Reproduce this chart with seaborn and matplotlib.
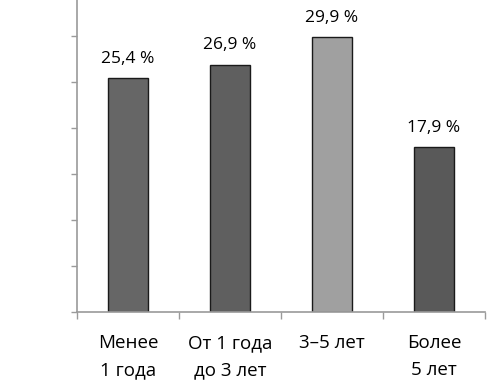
import matplotlib
matplotlib.use("Agg")
import matplotlib.pyplot as plt
import seaborn as sns
import pandas as pd
import numpy as np

categories = ["Менее\n1 года", "От 1 года\nдо 3 лет", "3–5 лет", "Более\n5 лет"]
values = [25.4, 26.9, 29.9, 17.9]
labels = ["25,4 %", "26,9 %", "29,9 %", "17,9 %"]
colors = ["#666666", "#5f5f5f", "#a0a0a0", "#595959"]

sns.set_style("white")
plt.rcParams["font.family"] = ["Open Sans", "DejaVu Sans"]

df = pd.DataFrame({"cat": categories, "val": values})

fig = plt.figure(figsize=(5.0, 3.88), dpi=100)
ax = fig.add_axes([77/500, 76/388, 408/500, 322/388])

sns.barplot(data=df, x="cat", y="val", hue="cat", palette=colors, legend=False,
            width=0.4, edgecolor="#1a1a1a", linewidth=1.0, saturation=1, ax=ax)

ax.set_xlim(-0.5, 3.5)
ax.set_ylim(0, 35)
ax.set_xlabel("")
ax.set_ylabel("")

for i, (v, t) in enumerate(zip(values, labels)):
    ax.annotate(t, (i, v), xytext=(0, 8), textcoords="offset points",
                ha="center", va="bottom", fontsize=12.5, color="#000000")

axis_col = "#9a9a9a"
for s in ["top", "right"]:
    ax.spines[s].set_visible(False)
for s in ["left", "bottom"]:
    ax.spines[s].set_color(axis_col)
    ax.spines[s].set_linewidth(1.2)

ax.set_yticks(np.arange(0, 36, 5))
ax.set_yticklabels([])
ax.tick_params(axis="y", which="major", direction="out", length=4, width=1.0,
               color=axis_col, left=True)

ax.set_xticks(range(len(categories)))
ax.set_xticklabels(categories, fontsize=13.5, linespacing=1.65, color="#000000")
ax.tick_params(axis="x", which="major", length=0, pad=16)
ax.set_xticks(np.arange(-0.5, 4.0, 1.0), minor=True)
ax.tick_params(axis="x", which="minor", direction="out", length=5, width=1.0,
               color=axis_col, bottom=True)

fig.savefig("out.png", dpi=100)
